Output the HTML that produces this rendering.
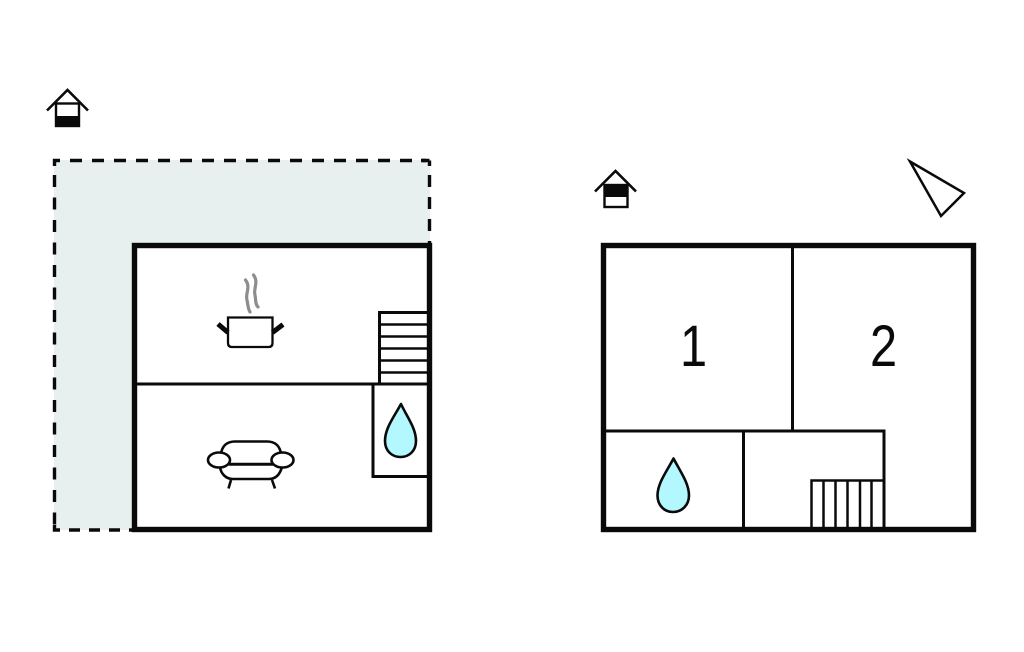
<!DOCTYPE html>
<html>
<head>
<meta charset="utf-8">
<style>
html,body{margin:0;padding:0;background:#fff;}
svg{display:block;}
text{font-family:"Liberation Sans",sans-serif;fill:#0a0a0a;}
</style>
</head>
<body>
<svg width="1024" height="652" viewBox="0 0 1024 652" xmlns="http://www.w3.org/2000/svg">
<rect width="1024" height="652" fill="#fff"/>
<!-- terrace -->
<polygon points="54,160 430,160 430,245 134,245 134,530 54,530" fill="#e8efef"/>
<g stroke="#0a0a0a" stroke-width="3.4" fill="none">
  <path d="M60,160.5H54.5V166"/>
  <path d="M70,160.5H426" stroke-dasharray="12 10"/>
  <path d="M429.5,160.5V166M421,160.5H429.5"/>
  <path d="M54.5,175V530" stroke-dasharray="12 10.5"/>
  <path d="M429.5,175V243" stroke-dasharray="12 10"/>
  <path d="M54.5,525V530H60"/>
  <path d="M69,530H132" stroke-dasharray="11 9"/>
</g>
<!-- left house -->
<rect x="134.5" y="245.5" width="295" height="284" fill="#fff" stroke="#0a0a0a" stroke-width="5.4"/>
<g stroke="#0a0a0a" fill="none" stroke-width="3">
  <path d="M135,384H428"/>
  <path d="M373,384V476.5H428"/>
  <path d="M428,312.5H379.5V384" />
  <path d="M380,324.5H428M380,336.5H428M380,348.5H428M380,360.5H428M380,372.5H428" stroke-width="2.6"/>
</g>
<path d="M401,404 C394,417 385,428 385,441 C385,451 392,457 400.5,457 C409,457 416,451 416,441 C416,428 407,417 401,404Z" fill="#b3f7ff" stroke="#0a0a0a" stroke-width="2.6" stroke-linejoin="round"/>
<!-- pot -->
<path d="M228,317.5H272.5V343Q272.5,347 268.5,347H232Q228,347 228,343Z" fill="#fff" stroke="#0a0a0a" stroke-width="2.3"/>
<path d="M218,324L228,332.5M283,324.5L272.5,332.5" stroke="#0a0a0a" stroke-width="5" fill="none"/>
<path d="M245.5,280C251,287 245,294 247,300C248,305 248,309 250,312" stroke="#8d8d8d" stroke-width="3.2" fill="none" stroke-linecap="round"/>
<path d="M253.5,275C259,282 253,289 255,295C256,300 255,304 258,307" stroke="#8d8d8d" stroke-width="3.2" fill="none" stroke-linecap="round"/>
<!-- sofa -->
<g stroke="#0a0a0a" stroke-width="2.6" fill="#fff">
  <path d="M221,454C222,446 227,441.5 235,441.5H267C275,441.5 280,446 281,454V464H221Z" fill="#fff"/>
  <path d="M220,467C221,474 226,479 233,479H269C276,479 280,474 282,467" fill="none"/>
  <path d="M229,464.5H273" fill="none"/>
  <ellipse cx="219" cy="460" rx="11" ry="7.5"/>
  <ellipse cx="282.5" cy="460" rx="11" ry="7.5"/>
  <path d="M231,480L228.5,488.5M272,480L275,488.5" fill="none"/>
</g>
<!-- house icon 1 -->
<path d="M47,110.5L67.5,90L88,110.5" fill="none" stroke="#0a0a0a" stroke-width="2.6"/>
<rect x="56" y="103.5" width="23" height="22.5" fill="#fff" stroke="#0a0a0a" stroke-width="2.4"/>
<rect x="55" y="116" width="25" height="11" fill="#0a0a0a"/>
<!-- right house -->
<rect x="603.5" y="245.5" width="370" height="284" fill="#fff" stroke="#0a0a0a" stroke-width="5.4"/>
<g stroke="#0a0a0a" fill="none" stroke-width="3">
  <path d="M792.5,245V431"/>
  <path d="M604,431H884V528"/>
  <path d="M743.5,431V528"/>
  <path d="M811.5,528V480.5H884" stroke-width="2.5"/>
  <path d="M823.5,481V528M835.5,481V528M847.5,481V528M860,481V528M871.5,481V528" stroke-width="2.5"/>
</g>
<path d="M673.5,458.5C667,471 657.5,483 657.5,495.5C657.5,505 664,512 673,512C682,512 689,505 689,495.5C689,483 680,471 673.5,458.5Z" fill="#b3f7ff" stroke="#0a0a0a" stroke-width="2.6" stroke-linejoin="round"/>
<text transform="translate(693.5,366) scale(0.84,1)" font-size="58" text-anchor="middle">1</text>
<text transform="translate(883.5,366) scale(0.84,1)" font-size="58" text-anchor="middle">2</text>
<!-- house icon 2 -->
<path d="M595,191.5L615.5,171L636,191.5" fill="none" stroke="#0a0a0a" stroke-width="2.6"/>
<rect x="604.5" y="185" width="23" height="22" fill="#fff" stroke="#0a0a0a" stroke-width="2.4"/>
<rect x="604" y="184" width="24" height="13" fill="#0a0a0a"/>
<!-- north arrow -->
<polygon points="910,161.5 964,193 941,216" fill="#fff" stroke="#0a0a0a" stroke-width="2.5"/>
</svg>
</body>
</html>
